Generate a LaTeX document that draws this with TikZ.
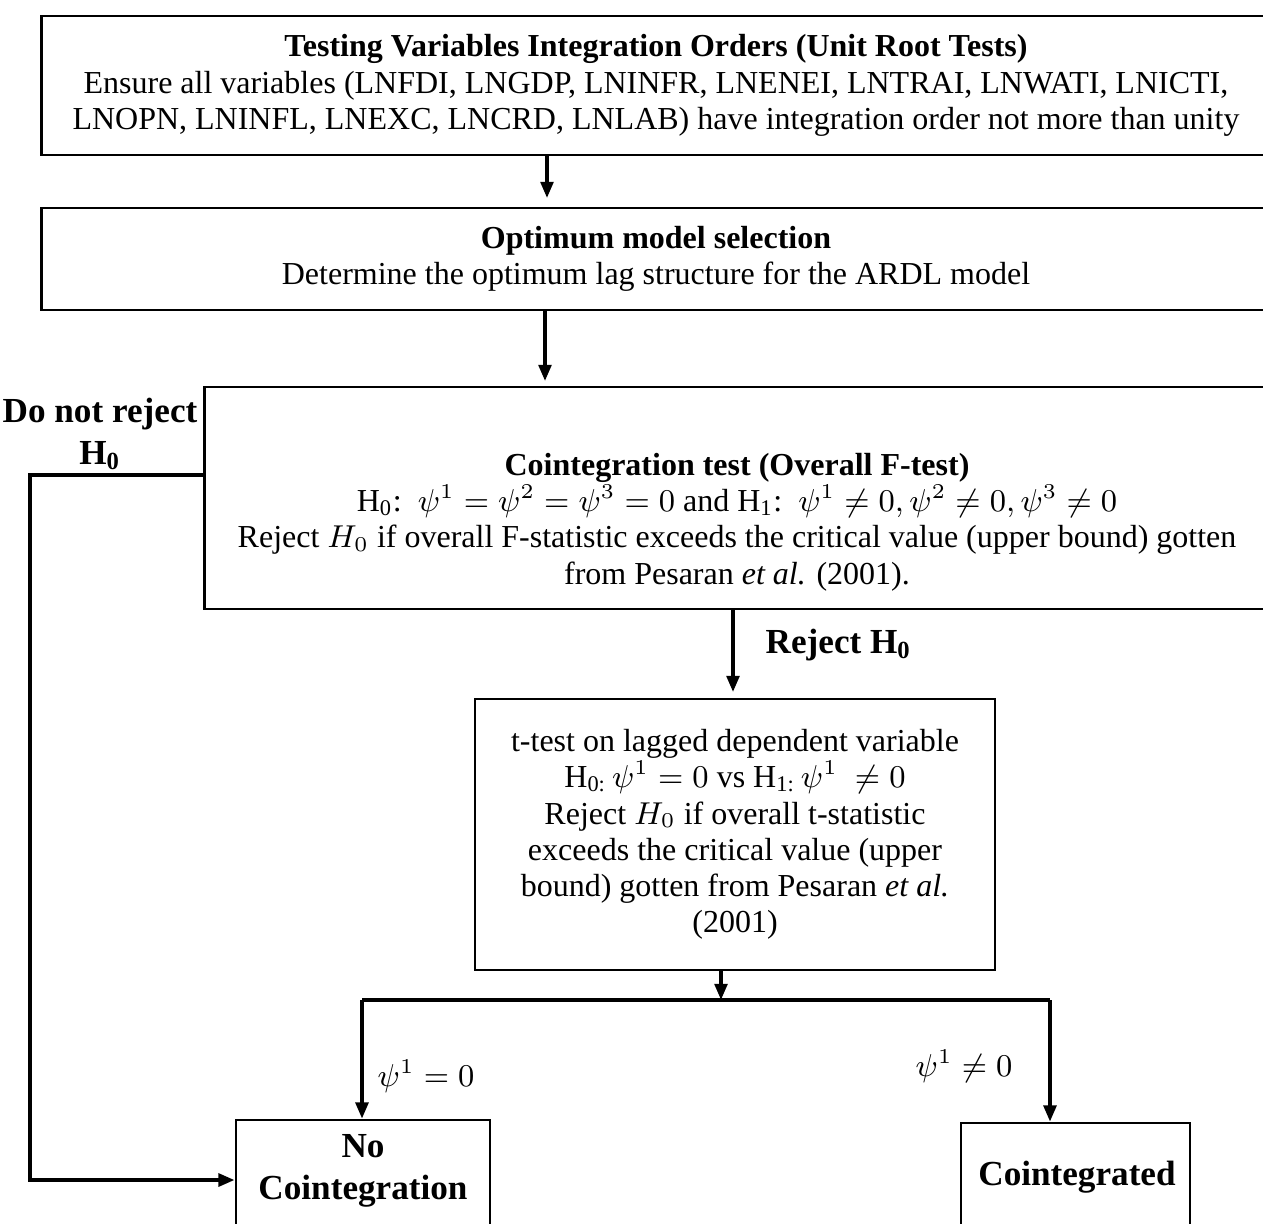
\documentclass[tikz,border=0pt]{standalone}
\usepackage{fontspec}
\setmainfont{Liberation Serif}
\usepackage{amsmath}
\usetikzlibrary{arrows.meta}

\tikzset{
  box/.style={draw, line width=0.75pt, inner sep=0pt, align=center},
  txt/.style={inner sep=0pt, align=center},
  lbl/.style={inner sep=0pt, align=center, font=\bfseries},
  arr/.style={-{Triangle[length=4.6pt,width=3.6pt]}, line width=1pt},
  link/.style={line width=1pt}
}

\begin{document}
\begin{tikzpicture}[x=0.01cm, y=-0.01cm, font=\fontsize{9.1}{10.3}\selectfont]
  \useasboundingbox (0,0) rectangle (1263,1223);
  \clip (0,0) rectangle (1263,1223);

  % Kasten oben
  \node[box, minimum width=12.28cm, minimum height=1.39cm] (unitroot) at (656,85.5)
    {\textbf{Testing Variables Integration Orders (Unit Root Tests)}\\
     Ensure all variables (LNFDI, LNGDP, LNINFR, LNENEI, LNTRAI, LNWATI, LNICTI,\\
     LNOPN, LNINFL, LNEXC, LNCRD, LNLAB) have integration order not more than unity};
  \node[box, minimum width=12.28cm, minimum height=1.02cm] (optlag) at (656,259)
    {\textbf{Optimum model selection}\\
     Determine the optimum lag structure for the ARDL model};

  % Kointegrationstest
  \node[box, minimum width=10.65cm, minimum height=2.22cm] (coint) at (737.5,498) {};
  \node[txt] (cointtxt) at (737,522)
    {\textbf{Cointegration test (Overall F-test)}\\
     H\textsubscript{0}:\enspace$\psi^1=\psi^2=\psi^3=0$ and H\textsubscript{1}:\enspace$\psi^1\neq 0,\psi^2\neq 0,\psi^3\neq 0$\\
     Reject $H_0$ if overall F-statistic exceeds the critical value (upper bound) gotten\\
     from Pesaran \textit{et al.} (2001).};

  % t-Test
  \node[box, minimum width=5.20cm, minimum height=2.71cm] (ttest) at (735,834.5)
    {t-test on lagged dependent variable\\
     H\textsubscript{0:}$\,\psi^1=0$ vs H\textsubscript{1:}$\,\psi^1\ \neq 0$\\
     Reject $H_0$ if overall t-statistic\\
     exceeds the critical value (upper\\
     bound) gotten from Pesaran \textit{et al.}\\
     (2001)};

  % Ergebnisse
  \node[box, minimum width=2.54cm, minimum height=1.6cm] (nocoint) at (363,1200) {};
  \node[lbl] (nocointtxt) at (363,1171) {No\\Cointegration};
  \node[box, minimum width=2.29cm, minimum height=1.6cm] (cointd) at (1075.5,1203) {};
  \node[lbl] (cointdtxt) at (1077,1177) {Cointegrated};

  % Beschriftungen
  \node[lbl] (notrej) at (100,434) {Do not reject\\H\textsubscript{0}};
  \node[lbl, anchor=west] (rej) at (765,645) {Reject H\textsubscript{0}};
  \node[txt, anchor=west] (psizero) at (377,1076) {$\psi^1=0$};
  \node[txt, anchor=west] (psinonzero) at (915,1066) {$\psi^1\neq 0$};

  % Pfeile
  \coordinate (a1) at (547,198);
  \coordinate (a2) at (545,381);
  \coordinate (a3) at (733,692);
  \draw[arr] (unitroot.south -| a1) -- (a1);
  \draw[arr] (optlag.south -| a2) -- (a2);
  \draw[arr] (coint.south -| a3) -- (a3);

  % Verzweigung
  \coordinate (brM) at (721,1000);
  \coordinate (brL) at (362,1000);
  \coordinate (brR) at (1050,1000);
  \draw[arr] (ttest.south -| brM) -- (brM);
  \draw[link] (brL) -- (brR);
  \draw[arr] (brL) -- (nocoint.north -| brL);
  \draw[arr] (brR) -- (cointd.north -| brR);

  % Rueckfuehrung links
  \coordinate (lp1) at (30,475);
  \coordinate (lp2) at (30,1180);
  \draw[arr, line width=1.1pt] (coint.west |- lp1) -- (lp1) -- (lp2) -- (nocoint.west |- lp2);
\end{tikzpicture}
\end{document}
